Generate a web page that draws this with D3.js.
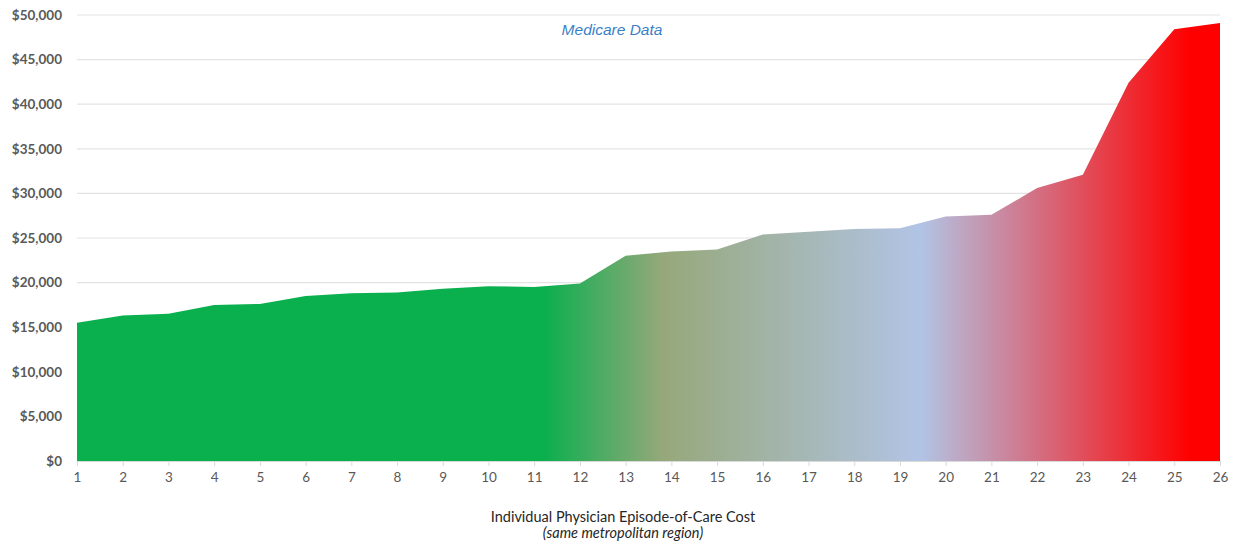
<!DOCTYPE html>
<html>
<head>
<meta charset="utf-8">
<script src="https://cdn.jsdelivr.net/npm/d3@7"></script>
<style>
  html, body { margin: 0; padding: 0; background: #fff; }
  svg { display: block; }
</style>
</head>
<body>
<svg id="chart" width="1239" height="545"></svg>
<script>
// Physician index (1..26) and average episode-of-care cost in dollars
const physicians = d3.range(1, 27);
const costs = [15500, 16300, 16500, 17500, 17600, 18500, 18800, 18900, 19300, 19600,
               19500, 19900, 23000, 23500, 23700, 25400, 25700, 26000, 26100, 27400,
               27600, 30600, 32100, 42400, 48400, 49100];
const yTicks = [0, 5000, 10000, 15000, 20000, 25000, 30000, 35000, 40000, 45000, 50000];

const chartTitle = "Medicare Data";
const xTitle = "Individual Physician Episode-of-Care Cost";
const xSubtitle = "(same metropolitan region)";

const svg = d3.select("#chart");
const W = 1239, H = 545;
const margin = { left: 77, right: 19, top: 15, bottom: 84 };

const x = d3.scaleLinear().domain([1, 26]).range([margin.left, W - margin.right]);
const y = d3.scaleLinear().domain([0, 50000]).range([H - margin.bottom, margin.top]);

// Horizontal fill gradient: green → olive → pale blue → red
const grad = svg.append("defs").append("linearGradient")
  .attr("id", "costFill")
  .attr("gradientUnits", "userSpaceOnUse")
  .attr("x1", x(1)).attr("x2", x(26)).attr("y1", 0).attr("y2", 0);
[
  [0.00, "#0aaf4e"],
  [0.408, "#0aaf4e"],
  [0.513, "#96a87a"],
  [0.738, "#b2c4e5"],
  [0.974, "#ff0000"],
  [1.00, "#ff0000"]
].forEach(([o, c]) => grad.append("stop").attr("offset", o).attr("stop-color", c));

// Gridlines
svg.append("g")
  .selectAll("line")
  .data(yTicks.filter(d => d > 0))
  .join("line")
  .attr("x1", x(1)).attr("x2", x(26))
  .attr("y1", d => y(d)).attr("y2", d => y(d))
  .attr("stroke", "#e3e3e3").attr("stroke-width", 1.2);

// Area
const area = d3.area()
  .x((d, i) => x(physicians[i]))
  .y0(y(0))
  .y1(d => y(d));
svg.append("path")
  .datum(costs)
  .attr("d", area)
  .attr("fill", "url(#costFill)");

// Y axis
const yAxis = svg.append("g")
  .attr("transform", `translate(${margin.left - 15},0)`)
  .call(d3.axisLeft(y).tickValues(yTicks).tickSize(0).tickPadding(0)
    .tickFormat(d => "$" + d3.format(",")(d)));
yAxis.select(".domain").remove();
yAxis.selectAll("text")
  .attr("fill", "#595959")
  .style("font-family", "Lato, 'Open Sans', sans-serif")
  .style("font-weight", "700")
  .style("font-size", "13.5px");

// X axis
const xAxis = svg.append("g")
  .attr("transform", `translate(0,${y(0)})`)
  .call(d3.axisBottom(x).tickValues(physicians).tickSize(5).tickPadding(6)
    .tickFormat(d3.format("d")));
xAxis.select(".domain").attr("stroke", "#d9d9d9");
xAxis.selectAll(".tick line").attr("stroke", "#d9d9d9");
xAxis.selectAll("text")
  .attr("fill", "#595959")
  .style("font-family", "Lato, 'Open Sans', sans-serif")
  .style("font-size", "13.5px");

// Titles
svg.append("text")
  .attr("x", 612).attr("y", 35)
  .attr("text-anchor", "middle")
  .attr("fill", "#3a7fc6")
  .style("font-family", "'Liberation Sans', Arial, sans-serif")
  .style("font-style", "italic")
  .style("font-size", "15.5px")
  .text(chartTitle);

svg.append("text")
  .attr("x", 623).attr("y", 522)
  .attr("text-anchor", "middle")
  .attr("fill", "#262626")
  .style("font-family", "Lato, 'Open Sans', sans-serif")
  .style("font-size", "14.5px")
  .text(xTitle);

svg.append("text")
  .attr("x", 623).attr("y", 538)
  .attr("text-anchor", "middle")
  .attr("fill", "#262626")
  .style("font-family", "Lato, 'Open Sans', sans-serif")
  .style("font-style", "italic")
  .style("font-size", "14.5px")
  .text(xSubtitle);
</script>
</body>
</html>
